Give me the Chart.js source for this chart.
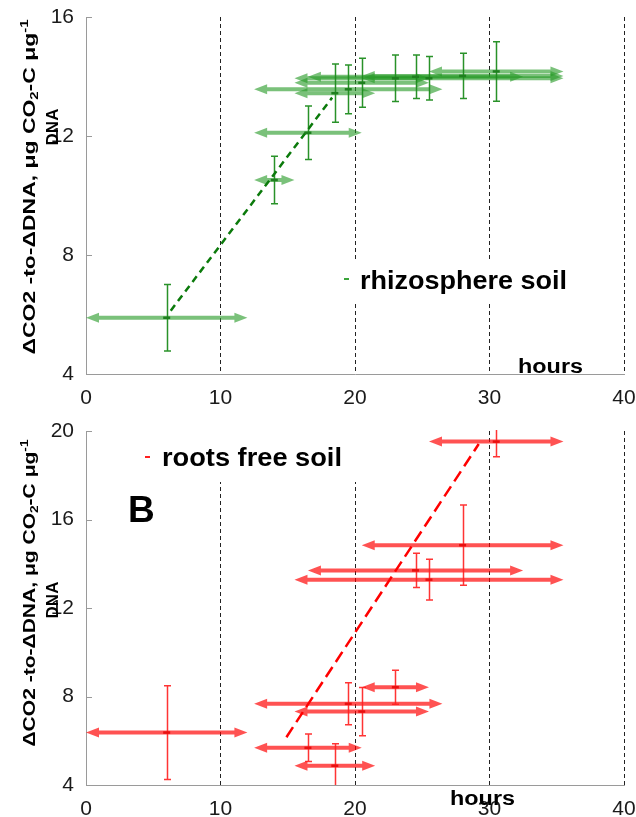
<!DOCTYPE html>
<html><head><meta charset="utf-8">
<script src="https://cdn.jsdelivr.net/npm/chart.js@4.4.1/dist/chart.umd.min.js"></script>
<style>
html,body{margin:0;padding:0;background:#fff;width:636px;height:817px;overflow:hidden}
canvas{position:absolute;left:0}
#c1{top:0}
#c2{top:400px}
</style></head><body>
<canvas id="c1" width="636" height="420"></canvas>
<canvas id="c2" width="636" height="417"></canvas>
<script>
// ---------- data ----------
const xTicks = [0, 10, 20, 30, 40];

const rhizoHours      = [6, 14, 16.5, 18.5, 19.5, 20.5, 23, 24.5, 25.5, 28, 30.5];
const rhizoHoursErr   = [6, 1.5, 4, 3, 7, 5, 2.5, 8, 10, 7.5, 5];
const rhizoValues     = [5.89, 10.52, 12.11, 13.44, 13.57, 13.79, 13.94, 13.99, 13.94, 14.02, 14.17];
const rhizoValuesErr  = [1.12, 0.8, 0.9, 0.98, 0.82, 0.82, 0.78, 0.73, 0.73, 0.76, 1.0];
const rhizoTrendHours = [6.3, 18.3];
const rhizoTrendVals  = [6.13, 13.29];
const rhizoYTicks     = [4, 8, 12, 16];

const freeHours       = [6, 16.5, 18.5, 19.5, 20.5, 23, 24.5, 25.5, 28, 30.5];
const freeHoursErr    = [6, 4, 3, 7, 5, 2.5, 8, 10, 7.5, 5];
const freeValues      = [6.37, 5.68, 4.87, 7.67, 7.32, 8.42, 13.7, 13.28, 14.84, 19.52];
const freeValuesErr   = [2.12, 0.62, 1.0, 0.95, 1.09, 0.77, 0.77, 0.92, 1.81, 0.68];
const freeTrendHours  = [14.9, 29.2];
const freeTrendVals   = [6.16, 19.41];
const freeYTicks      = [4, 8, 12, 16, 20];

const FONT = '"Liberation Sans", Arial, sans-serif';

// ---------- helpers ----------
function arrow(ctx, x1, x2, yy, L, H, w) {
  if (x2 - x1 < 2 * L) L = (x2 - x1) / 2;
  ctx.beginPath();
  ctx.moveTo(x1, yy);
  ctx.lineTo(x1 + L, yy - H);
  ctx.lineTo(x1 + L, yy - w / 2);
  ctx.lineTo(x2 - L, yy - w / 2);
  ctx.lineTo(x2 - L, yy - H);
  ctx.lineTo(x2, yy);
  ctx.lineTo(x2 - L, yy + H);
  ctx.lineTo(x2 - L, yy + w / 2);
  ctx.lineTo(x1 + L, yy + w / 2);
  ctx.lineTo(x1 + L, yy + H);
  ctx.closePath();
  ctx.fill();
}

function rotTitle(ctx, cx, cy, size, parts, targetLen) {
  ctx.save();
  ctx.translate(cx, cy);
  ctx.rotate(-Math.PI / 2);
  let total = 0;
  parts.forEach(p => {
    ctx.font = 'bold ' + (p.s ? size * 0.65 : size) + 'px ' + FONT;
    p.w = ctx.measureText(p.t).width; total += p.w;
  });
  const k = targetLen ? targetLen / total : 1;
  ctx.scale(k, 1);
  let x = -total / 2;
  ctx.fillStyle = '#000';
  ctx.textBaseline = 'alphabetic';
  parts.forEach(p => {
    ctx.font = 'bold ' + (p.s ? size * 0.65 : size) + 'px ' + FONT;
    const dy = p.s === 'sub' ? size * 0.2 : (p.s === 'sup' ? -size * 0.42 : 0);
    ctx.fillText(p.t, x, dy);
    x += p.w;
  });
  ctx.restore();
}

function stretchedText(ctx, txt, x, y, size, targetW) {
  ctx.save();
  ctx.font = 'bold ' + size + 'px ' + FONT;
  const w = ctx.measureText(txt).width;
  ctx.translate(x, y);
  ctx.scale(targetW ? targetW / w : 1, 1);
  ctx.fillStyle = '#000';
  ctx.textBaseline = 'alphabetic';
  ctx.fillText(txt, 0, 0);
  ctx.restore();
}

const errPlugin = {
  id: 'errbars',
  beforeDatasetsDraw(chart, args, o) {
    const { ctx, chartArea: a, scales: { x, y } } = chart;
    // legend box (white, covers grid lines)
    ctx.save();
    ctx.fillStyle = '#fff';
    ctx.fillRect(o.legend.box[0], o.legend.box[1], o.legend.box[2], o.legend.box[3]);
    ctx.fillStyle = o.markColor;
    ctx.fillRect(o.legend.mark[0], o.legend.mark[1], 5, 2);
    stretchedText(ctx, o.legend.text, o.legend.tx, o.legend.ty, o.legend.size, o.legend.w);
    ctx.restore();

    ctx.save();
    ctx.beginPath();
    ctx.rect(a.left, a.top - 1, a.right - a.left, a.bottom - a.top + 1);
    ctx.clip();
    ctx.fillStyle = o.arrowColor;
    o.hours.forEach((h, i) => {
      const x1 = x.getPixelForValue(h - o.hoursErr[i]);
      const x2 = x.getPixelForValue(h + o.hoursErr[i]);
      const yy = y.getPixelForValue(o.values[i]);
      arrow(ctx, x1, x2, yy, 13, 5, 4);
    });
    ctx.strokeStyle = o.barColor;
    ctx.lineWidth = 1.5;
    o.hours.forEach((h, i) => {
      const xx = Math.round(x.getPixelForValue(h)) + 0.5;
      const y1 = y.getPixelForValue(o.values[i] + o.valuesErr[i]);
      const y2 = y.getPixelForValue(o.values[i] - o.valuesErr[i]);
      ctx.beginPath();
      ctx.moveTo(xx, y1); ctx.lineTo(xx, y2);
      ctx.moveTo(xx - 3.5, y1); ctx.lineTo(xx + 3.5, y1);
      ctx.moveTo(xx - 3.5, y2); ctx.lineTo(xx + 3.5, y2);
      ctx.stroke();
    });
    ctx.restore();
  },
  afterDraw(chart, args, o) {
    const { ctx, chartArea: a, scales: { y } } = chart;
    ctx.save();
    ctx.strokeStyle = '#9a9a9a';
    ctx.lineWidth = 1;
    o.yTicks.forEach(v => {
      const yy = Math.round(y.getPixelForValue(v)) + 0.5;
      ctx.beginPath(); ctx.moveTo(a.left, yy); ctx.lineTo(a.left + 6, yy); ctx.stroke();
    });
    ctx.restore();
    // "hours"
    stretchedText(ctx, 'hours', o.hoursPos[0], o.hoursPos[1], 20, 65);
    // y title
    rotTitle(ctx, o.title1[0], o.title1[1], 17,
      [{ t: 'ΔCO2 -to-ΔDNA, μg CO' }, { t: '2', s: 'sub' }, { t: '-C μg' }, { t: '-1', s: 'sup' }], o.title1[2]);
    rotTitle(ctx, o.title2[0], o.title2[1], 17, [{ t: 'DNA' }], o.title2[2]);
    if (o.letter) {
      ctx.save();
      ctx.font = 'bold 37px ' + FONT;
      ctx.fillStyle = '#000';
      ctx.fillText(o.letter[0], o.letter[1], o.letter[2]);
      ctx.restore();
    }
  }
};

function makeChart(id, cfg) {
  const pts = cfg.hours.map((h, i) => ({ x: h, y: cfg.values[i] }));
  const trend = cfg.trendHours.map((h, i) => ({ x: h, y: cfg.trendVals[i] }));
  return new Chart(document.getElementById(id), {
    type: 'scatter',
    data: {
      datasets: [
        { data: pts, pointStyle: 'line', pointRadius: 3.5, pointBorderWidth: 2.5,
          borderColor: cfg.markColor, backgroundColor: cfg.markColor, pointHoverRadius: 3.5 },
        { type: 'line', data: trend, showLine: true, borderColor: cfg.lineColor,
          borderWidth: 2.5, borderDash: cfg.dash, pointRadius: 0, fill: false, tension: 0 }
      ]
    },
    options: {
      responsive: false, animation: false, devicePixelRatio: 1,
      events: [],
      layout: { padding: { left: 0, right: 12, top: cfg.top, bottom: 0 } },
      plugins: {
        legend: { display: false }, tooltip: { enabled: false },
        errbars: {
          hours: cfg.hours, hoursErr: cfg.hoursErr, values: cfg.values, valuesErr: cfg.valuesErr,
          arrowColor: cfg.arrowColor, barColor: cfg.barColor, markColor: cfg.legendMark,
          yTicks: cfg.yTicks, legend: cfg.legend, hoursPos: cfg.hoursPos,
          title1: cfg.title1, title2: cfg.title2, letter: cfg.letter
        }
      },
      scales: {
        x: {
          type: 'linear', min: xTicks[0], max: xTicks[xTicks.length - 1],
          afterBuildTicks: s => { s.ticks = xTicks.map(v => ({ value: v })); },
          afterFit: s => { s.height = cfg.xH; s.paddingLeft = 0; s.paddingRight = 0; },
          grid: { drawTicks: false, lineWidth: 1,
            color: c => (c.tick && c.tick.value === 0) ? 'rgba(0,0,0,0)' : '#222' },
          border: { display: true, color: '#9a9a9a', width: 1, dash: [4, 3] },
          ticks: { padding: 12, color: '#1a1a1a', font: { family: FONT, size: 21 }, maxRotation: 0 }
        },
        y: {
          type: 'linear', min: cfg.yTicks[0], max: cfg.yTicks[cfg.yTicks.length - 1],
          afterBuildTicks: s => { s.ticks = cfg.yTicks.map(v => ({ value: v })); },
          afterFit: s => { s.width = 86; s.paddingTop = 0; s.paddingBottom = 0; },
          grid: { display: false, drawTicks: false },
          border: { display: true, color: '#9a9a9a', width: 1 },
          ticks: { padding: 12, color: '#1a1a1a', font: { family: FONT, size: 21 } }
        }
      }
    },
    plugins: [errPlugin]
  });
}

makeChart('c1', {
  hours: rhizoHours, hoursErr: rhizoHoursErr, values: rhizoValues, valuesErr: rhizoValuesErr,
  trendHours: rhizoTrendHours, trendVals: rhizoTrendVals, yTicks: rhizoYTicks,
  markColor: '#1f7f1f', lineColor: '#0b7a0b', dash: [7, 5],
  arrowColor: 'rgba(40,155,40,0.62)', barColor: 'rgba(30,140,30,0.95)', legendMark: '#3aa53a',
  top: 17, xH: 46,
  legend: { box: [335, 262, 245, 42], mark: [344, 278], text: 'rhizosphere soil', tx: 360, ty: 289, size: 25, w: 207 },
  hoursPos: [518, 373],
  title1: [35, 187, 335], title2: [58, 127, null]
});

makeChart('c2', {
  hours: freeHours, hoursErr: freeHoursErr, values: freeValues, valuesErr: freeValuesErr,
  trendHours: freeTrendHours, trendVals: freeTrendVals, yTicks: freeYTicks,
  markColor: '#e81010', lineColor: '#ff0000', dash: [12, 6],
  arrowColor: 'rgba(255,0,0,0.68)', barColor: 'rgba(255,30,30,0.9)', legendMark: '#ff2020',
  top: 31, xH: 32,
  legend: { box: [140, 31, 245, 51], mark: [145, 56], text: 'roots free soil', tx: 162, ty: 66, size: 25, w: 180 },
  hoursPos: [450, 405],
  title1: [35, 193, 307], title2: [58, 200, null],
  letter: ['B', 128, 122]
});
</script>
</body></html>
